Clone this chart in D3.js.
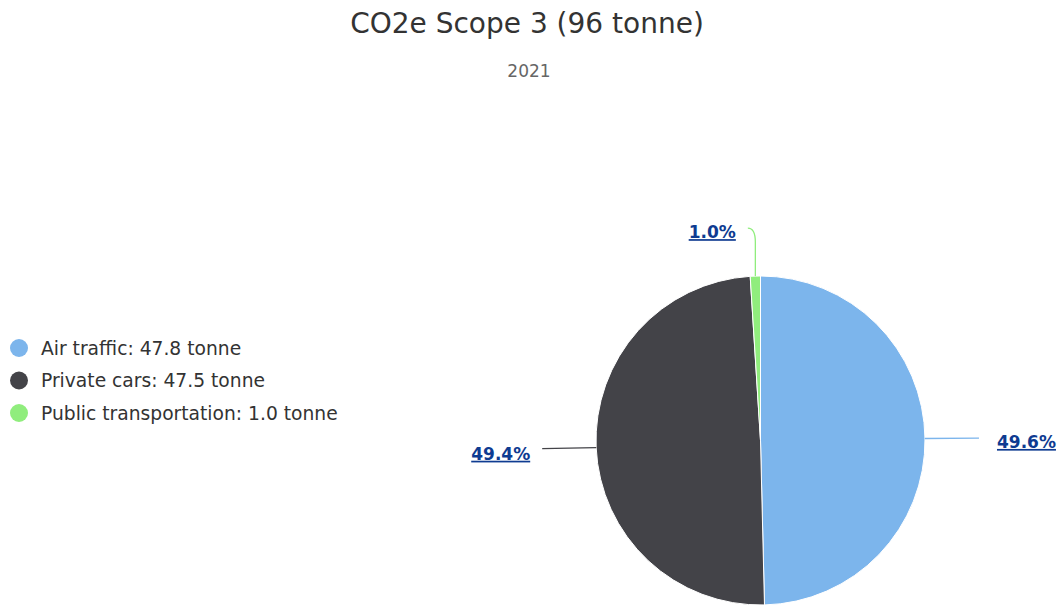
<!DOCTYPE html>
<html>
<head>
<meta charset="utf-8">
<script src="https://cdn.jsdelivr.net/npm/d3@7/dist/d3.min.js"></script>
<style>
  html, body { margin: 0; padding: 0; background: #fff; }
  svg { display: block; font-family: "DejaVu Sans", sans-serif; }
</style>
</head>
<body>
<svg id="chart" width="1059" height="605"></svg>
<script>
// Emission sources (tonne CO2e), 2021
const categories = ["Air traffic", "Private cars", "Public transportation"];
const values = [47.76, 47.54, 0.96];
const colors = ["#7cb5ec", "#434348", "#90ed7d"];
const titleText = "CO2e Scope 3 (96 tonne)";
const subtitleText = "2021";
const unit = "tonne";

const W = 1059, H = 605;
const svg = d3.select("#chart");

// Title and subtitle
svg.append("text")
  .attr("x", 527).attr("y", 33)
  .attr("text-anchor", "middle")
  .attr("font-size", 28).attr("fill", "#333333")
  .text(titleText);
svg.append("text")
  .attr("x", 529).attr("y", 77)
  .attr("text-anchor", "middle")
  .attr("font-size", 17).attr("fill", "#666666")
  .text(subtitleText);

// Legend
const fmt1 = d3.format(".1f");
const legend = svg.append("g").attr("transform", "translate(19,348)");
categories.forEach((c, i) => {
  const row = legend.append("g").attr("transform", `translate(0,${i * 32.5})`);
  row.append("circle").attr("r", 9).attr("fill", colors[i]);
  row.append("text")
    .attr("x", 22).attr("y", 6.5)
    .attr("font-size", 18.7).attr("fill", "#333333")
    .text(`${c}: ${fmt1(values[i])} ${unit}`);
});

// Pie
const cx = 760.5, cy = 440.5, r = 164.5;
const total = d3.sum(values);
const pie = d3.pie().sort(null).value(d => d)(values);
const arc = d3.arc().innerRadius(0).outerRadius(r);

const g = svg.append("g").attr("transform", `translate(${cx},${cy})`);
g.selectAll("path.slice")
  .data(pie)
  .join("path")
  .attr("class", "slice")
  .attr("d", arc)
  .attr("fill", (d, i) => colors[i])
  .attr("stroke", "#ffffff")
  .attr("stroke-width", 1)
  .attr("stroke-linejoin", "round");

// Data labels with connectors
const pct = d3.format(".1%");
const polar = (a, rad) => [Math.sin(a) * rad, -Math.cos(a) * rad];
const labelDist = 48;

pie.forEach((d, i) => {
  const a = (d.startAngle + d.endAngle) / 2;
  const [px, py] = polar(a, r);
  const [ex, ey] = polar(a, r + labelDist);
  const side = Math.sin(a) >= 0.02 ? 1 : -1;
  const wide = Math.abs(Math.sin(a)) > 0.5;
  const gap = side > 0 ? 24 : 18;
  const tx = ex + side * gap;
  const lineEnd = ex + side * 6;
  let path;
  if (wide) {
    path = `M${px},${py}L${lineEnd},${(py + ey) / 2}`;
  } else {
    path = `M${px},${py}L${px},${ey + 14}Q${px},${ey} ${lineEnd},${ey}`;
  }
  g.append("path")
    .attr("d", path)
    .attr("fill", "none")
    .attr("stroke", colors[i])
    .attr("stroke-width", 1.3);
  g.append("text")
    .attr("x", tx)
    .attr("y", ey + 10)
    .attr("text-anchor", side > 0 ? "start" : "end")
    .attr("font-size", 17)
    .attr("font-weight", "bold")
    .attr("fill", "#0e3b91")
    .attr("text-decoration", "underline")
    .text(pct(d.value / total));
});
</script>
</body>
</html>
